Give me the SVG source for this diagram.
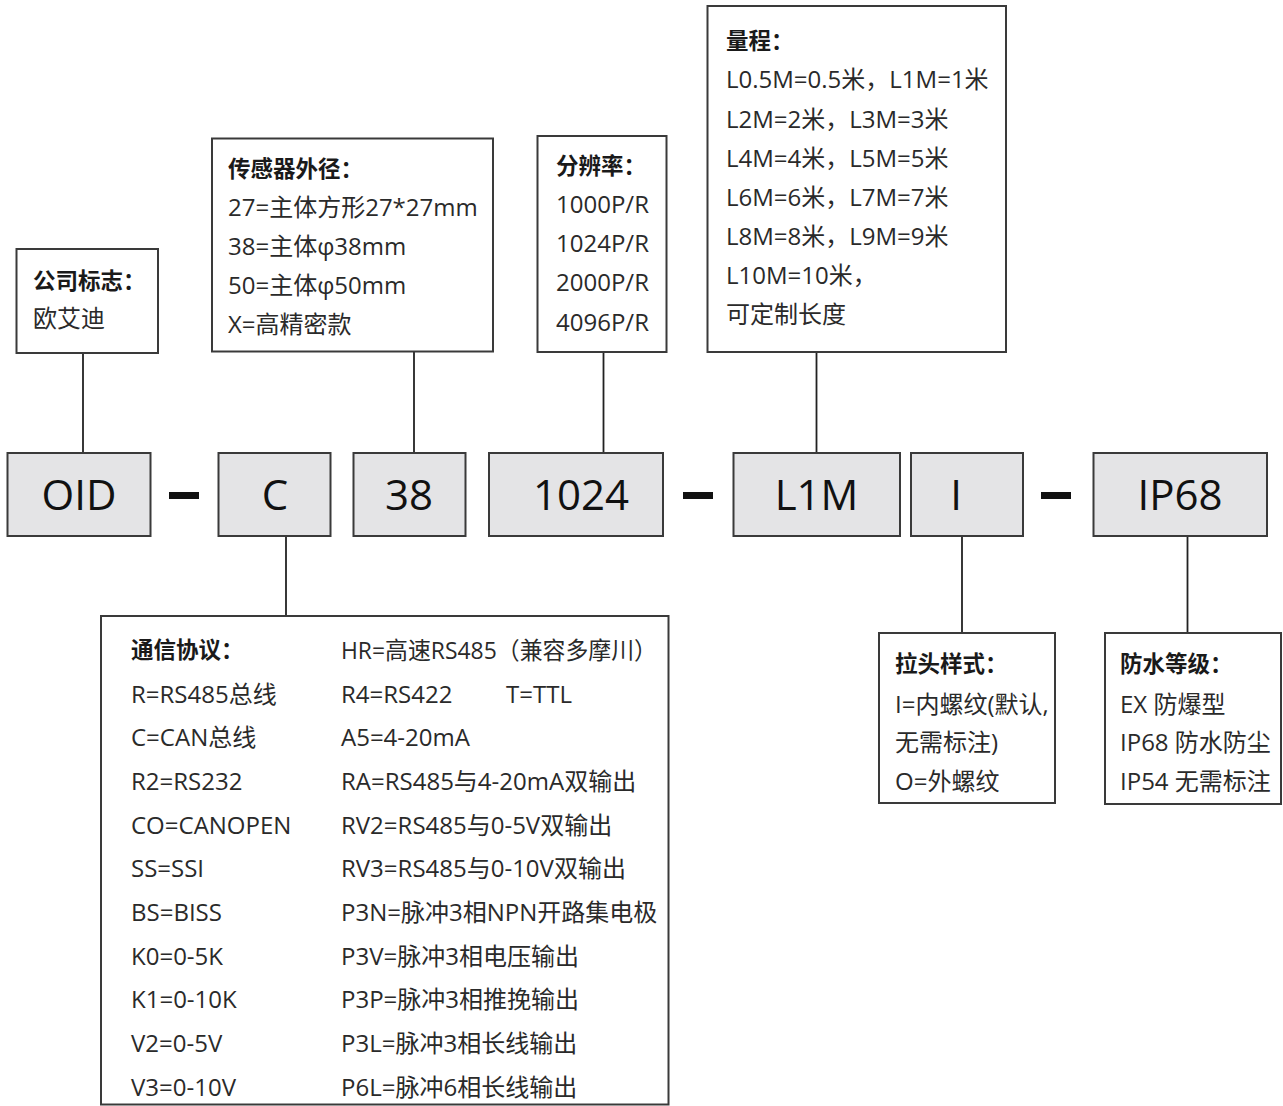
<svg xmlns="http://www.w3.org/2000/svg" width="1283" height="1106" viewBox="0 0 1283 1106">
<style>
text{font-family:"Open Sans","Noto Sans CJK SC",sans-serif;fill:#2a2a2a;font-size:24px}
.t{font-weight:700;font-size:22.5px;fill:#1a1a1a}
.code{font-size:42px;fill:#111;text-anchor:middle}
.box{fill:#ffffff;stroke:#3a3a3a;stroke-width:2}
.cbox{fill:#e4e4e6;stroke:#3a3a3a;stroke-width:2}
.dash{fill:#111}
.conn line{stroke:#222;stroke-width:1.8}
</style>
<rect x="0" y="0" width="1283" height="1106" fill="#ffffff"/>
<g id="connectors" class="conn">
<line x1="83" y1="353" x2="83" y2="453"/>
<line x1="414" y1="352" x2="414" y2="453"/>
<line x1="603.5" y1="352" x2="603.5" y2="453"/>
<line x1="816.5" y1="352" x2="816.5" y2="453"/>
<line x1="286" y1="536" x2="286" y2="616"/>
<line x1="962" y1="536" x2="962" y2="633"/>
<line x1="1187.5" y1="536" x2="1187.5" y2="633"/>
</g>
<g id="dashes">
<rect class="dash" x="169" y="492" width="30" height="7"/>
<rect class="dash" x="683" y="492" width="30" height="7"/>
<rect class="dash" x="1041" y="492" width="30" height="7"/>
</g>
<g id="code-OID"><rect class="cbox" x="7.5" y="453" width="143" height="83"/><text class="code" x="79" y="510">OID</text></g>
<g id="code-C"><rect class="cbox" x="218.5" y="453" width="112" height="83"/><text class="code" x="275" y="510">C</text></g>
<g id="code-38"><rect class="cbox" x="353.5" y="453" width="112" height="83"/><text class="code" x="409" y="510">38</text></g>
<g id="code-1024"><rect class="cbox" x="489" y="453" width="174" height="83"/><text class="code" x="581" y="510">1024</text></g>
<g id="code-L1M"><rect class="cbox" x="733.5" y="453" width="166.5" height="83"/><text class="code" x="816.5" y="510">L1M</text></g>
<g id="code-I"><rect class="cbox" x="911" y="453" width="112" height="83"/><text class="code" x="956" y="510">I</text></g>
<g id="code-IP68"><rect class="cbox" x="1093.5" y="453" width="173.5" height="83"/><text class="code" x="1180" y="510">IP68</text></g>
<g id="box-logo">
<rect class="box" x="16.5" y="249" width="141.5" height="104"/>
<text class="t" x="33" y="289">公司标志：</text>
<text x="33" y="327">欧艾迪</text>
</g>
<g id="box-diameter">
<rect class="box" x="212" y="138.5" width="281" height="213"/>
<text class="t" x="228" y="177">传感器外径：</text>
<text x="228" y="216">27=主体方形27*27mm</text>
<text x="228" y="255">38=主体φ38mm</text>
<text x="228" y="294">50=主体φ50mm</text>
<text x="228" y="333">X=高精密款</text>
</g>
<g id="box-resolution">
<rect class="box" x="537.5" y="136" width="129" height="216"/>
<text class="t" x="556" y="174">分辨率：</text>
<text x="556" y="213">1000P/R</text>
<text x="556" y="252">1024P/R</text>
<text x="556" y="291">2000P/R</text>
<text x="556" y="331">4096P/R</text>
</g>
<g id="box-range">
<rect class="box" x="707.5" y="6" width="298.5" height="346"/>
<text class="t" x="726" y="49">量程：</text>
<text x="726" y="88">L0.5M=0.5米，L1M=1米</text>
<text x="726" y="127.5">L2M=2米，L3M=3米</text>
<text x="726" y="166.5">L4M=4米，L5M=5米</text>
<text x="726" y="205.5">L6M=6米，L7M=7米</text>
<text x="726" y="245">L8M=8米，L9M=9米</text>
<text x="726" y="284">L10M=10米，</text>
<text x="726" y="323">可定制长度</text>
</g>
<g id="box-protocol">
<rect class="box" x="101" y="616" width="567.5" height="488.5"/>
<text class="t" x="131" y="658">通信协议：</text>
<text x="131" y="702.7">R=RS485总线</text>
<text x="131" y="746.3">C=CAN总线</text>
<text x="131" y="790">R2=RS232</text>
<text x="131" y="833.6">CO=CANOPEN</text>
<text x="131" y="877.3">SS=SSI</text>
<text x="131" y="920.9">BS=BISS</text>
<text x="131" y="964.6">K0=0-5K</text>
<text x="131" y="1008.2">K1=0-10K</text>
<text x="131" y="1051.9">V2=0-5V</text>
<text x="131" y="1095.5">V3=0-10V</text>
<text x="341" y="659" textLength="316" lengthAdjust="spacingAndGlyphs">HR=高速RS485（兼容多摩川）</text>
<text x="341" y="702.7">R4=RS422</text>
<text x="506" y="702.7">T=TTL</text>
<text x="341" y="746.3">A5=4-20mA</text>
<text x="341" y="790">RA=RS485与4-20mA双输出</text>
<text x="341" y="833.6">RV2=RS485与0-5V双输出</text>
<text x="341" y="877.3">RV3=RS485与0-10V双输出</text>
<text x="341" y="920.9">P3N=脉冲3相NPN开路集电极</text>
<text x="341" y="964.6">P3V=脉冲3相电压输出</text>
<text x="341" y="1008.2">P3P=脉冲3相推挽输出</text>
<text x="341" y="1051.9">P3L=脉冲3相长线输出</text>
<text x="341" y="1095.5">P6L=脉冲6相长线输出</text>
</g>
<g id="box-connector">
<rect class="box" x="879" y="633" width="176" height="170"/>
<text class="t" x="895" y="672">拉头样式：</text>
<text x="895" y="713">I=内螺纹(默认,</text>
<text x="895" y="751">无需标注)</text>
<text x="895" y="790">O=外螺纹</text>
</g>
<g id="box-waterproof">
<rect class="box" x="1105" y="633" width="176" height="171"/>
<text class="t" x="1120" y="672">防水等级：</text>
<text x="1120" y="713">EX 防爆型</text>
<text x="1120" y="751">IP68 防水防尘</text>
<text x="1120" y="790">IP54 无需标注</text>
</g>
</svg>
